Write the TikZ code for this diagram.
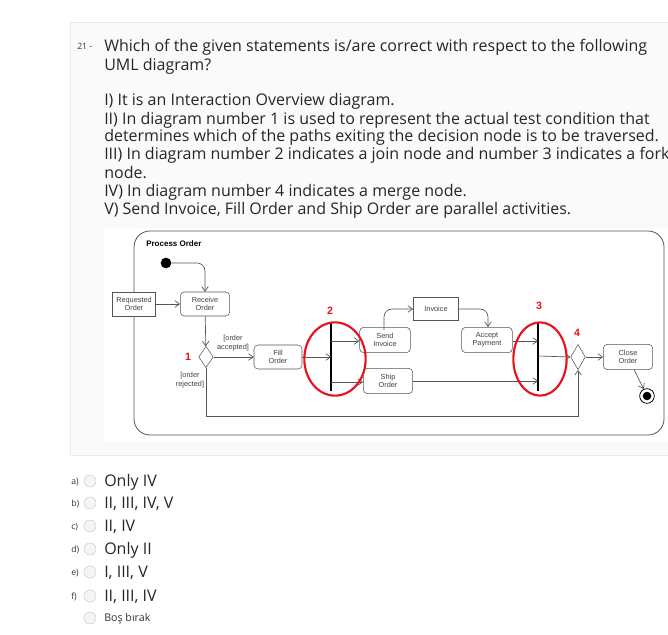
\documentclass[tikz,border=0pt]{standalone}
\usepackage{fontspec}
\setmainfont{Open Sans}
\newfontfamily\arialf{Liberation Sans}
\usetikzlibrary{arrows.meta,shapes.geometric}
\definecolor{ln}{HTML}{555555}
\definecolor{redc}{HTML}{E8141B}
\tikzset{
 q/.style={anchor=base west,inner sep=0,font=\fontsize{12}{13.5}\selectfont,text=black!85},
 ans/.style={anchor=base west,inner sep=0,font=\fontsize{12}{13.5}\selectfont,text=black!85},
 radio/.style={circle,draw=black!20,fill=black!4,minimum size=9pt,inner sep=0},
 act/.style={draw=ln,rounded corners=3pt,fill=white,font=\arialf\fontsize{5.5}{6}\selectfont,align=center,inner sep=0,text=black!75},
 obj/.style={draw=ln,fill=white,font=\arialf\fontsize{5.5}{6}\selectfont,align=center,inner sep=0,text=black!75},
 ar/.style={draw=ln,line width=0.5pt,-{Straight Barb[length=3.5pt,width=5pt]}},
 num/.style={text=redc,font=\arialf\bfseries\fontsize{8}{9}\selectfont,inner sep=0},
 ell/.style={draw=redc,line width=1.6pt,ellipse},
}
\begin{document}
\begin{tikzpicture}[x=0.75pt,y=-0.75pt]
\useasboundingbox (0,0) rectangle (668,635);
\fill[white] (0,0) rectangle (668,635);
\filldraw[fill=black!2,draw=black!8] (70,22) rectangle (680,455);
\fill[white] (104,228) rectangle (680,441);
% question
\node[anchor=base west,inner sep=0,font=\fontsize{6.5}{7}\selectfont,text=black!80] (qn) at (77,50) {21 -};
\node[q] (l1) at (104,52) {Which of the given statements is/are correct with respect to the following};
\node[q] (l2) at (104,71) {UML diagram?};
\node[q] (l3) at (104,106) {I) It is an Interaction Overview diagram.};
\node[q] (l4) at (104,124) {II) In diagram number 1 is used to represent the actual test condition that};
\node[q] (l5) at (104,142) {determines which of the paths exiting the decision node is to be traversed.};
\node[q] (l6) at (104,160) {III) In diagram number 2 indicates a join node and number 3 indicates a fork};
\node[q] (l7) at (104,178) {node.};
\node[q] (l8) at (104,196) {IV) In diagram number 4 indicates a merge node.};
\node[q] (l9) at (104,214) {V) Send Invoice, Fill Order and Ship Order are parallel activities.};
% diagram
\draw[ln,line width=0.6pt,rounded corners=12pt] (134,231) rectangle (664,435);
\node[anchor=base west,inner sep=0,font=\arialf\bfseries\fontsize{6}{7}\selectfont] (po) at (146,246) {Process Order};
\node[circle,fill=black,inner sep=0,minimum size=8pt] (init) at (166,263) {};
\node[obj,minimum width=32pt,minimum height=18pt] (req) at (134,304) {Requested\\Order};
\node[act,minimum width=37pt,minimum height=18pt] (rec) at (205,304) {Receive\\Order};
\node[diamond,draw=ln,fill=white,inner sep=0,minimum width=11pt,minimum height=16pt] (d1) at (206,357) {};
\node[act,minimum width=36pt,minimum height=18pt] (fill) at (278,357) {Fill\\Order};
\draw[line width=1.8pt] (331,322) -- (331,391);
\node[act,minimum width=38pt,minimum height=19pt] (send) at (385,340) {Send\\Invoice};
\node[act,minimum width=37pt,minimum height=19pt] (ship) at (388,381) {Ship\\Order};
\node[obj,minimum width=34pt,minimum height=17pt] (inv) at (436,309) {Invoice};
\node[act,minimum width=38pt,minimum height=19pt] (acc) at (487,340) {Accept\\Payment};
\draw[line width=1.8pt] (538,322) -- (538,391);
\node[diamond,draw=ln,fill=white,inner sep=0,minimum width=11pt,minimum height=19pt] (d4) at (578,357) {};
\node[act,minimum width=37pt,minimum height=19pt] (close) at (628,357) {Close\\Order};
\node[circle,draw=black,line width=0.6pt,minimum size=11pt,inner sep=0] (fin) at (647,396) {};
\fill (fin) circle (3.2pt);
% connectors
\draw[ar,rounded corners=6pt] (init) -- (205,263) -- (rec.north);
\draw[ar] (req) -- (rec);
\draw[ar] (rec) -- (d1);
\draw[ar] (d1) -- (fill);
\draw[ar] (fill.east) -- (331,357);
\draw[ar] (331,341) -- (send.west |- 0,341);
\draw[ar] (331,382) -- (ship.west |- 0,382);
\draw[ar,rounded corners=6pt] (384,330) -- (384,309) -- (inv.west);
\draw[ar,rounded corners=6pt] (inv.east) -- (488,309) -- (acc.north -| 488,0);
\draw[ar] (acc.east |- 0,341) -- (538,341);
\draw[ar] (ship.east) -- (538,381);
\draw[ar] (538,356) -- (d4.west);
\draw[ar] (d4) -- (close);
\draw[ar] (close) -- (fin);
\draw[ar] (d1.south) -- (206,416) -- (578,416) -- (d4.south);
% labels
\node[align=center,inner sep=0,font=\arialf\fontsize{5.5}{6.5}\selectfont,text=black!75] (acl) at (233,343) {[order\\accepted]};
\node[align=center,inner sep=0,font=\arialf\fontsize{5.5}{6.5}\selectfont,text=black!75] (rjl) at (190,380) {[order\\rejected]};
\node[num] (n1) at (188,357) {1};
\node[num] (n2) at (330,311) {2};
\node[num] (n3) at (539,306) {3};
\node[num] (n4) at (577,333) {4};
\node[ell,minimum width=46pt,minimum height=55pt] (e2) at (335,359) {};
\node[ell,minimum width=40pt,minimum height=55pt] (e3) at (540,359) {};
% answers
\foreach \y/\l/\t [count=\i] in {481/a)/Only IV,503/b)/{II, III, IV, V},526/c)/{II, IV},549/d)/Only II,572/e)/{I, III, V},596/f)/{II, III, IV}}{
  \node[anchor=base west,inner sep=0,font=\fontsize{6.5}{7}\selectfont,text=black!80] (al\i) at (71,\y+3) {\l};
  \node[radio] (r\i) at (90,\y) {};
  \node[ans] (at\i) at (104,\y+5) {\t};
}
\node[radio] (r7) at (90,618) {};
\node[anchor=base west,inner sep=0,font=\fontsize{8}{9}\selectfont,text=black!80] (at7) at (104,621) {Boş bırak};
\end{tikzpicture}
\end{document}
